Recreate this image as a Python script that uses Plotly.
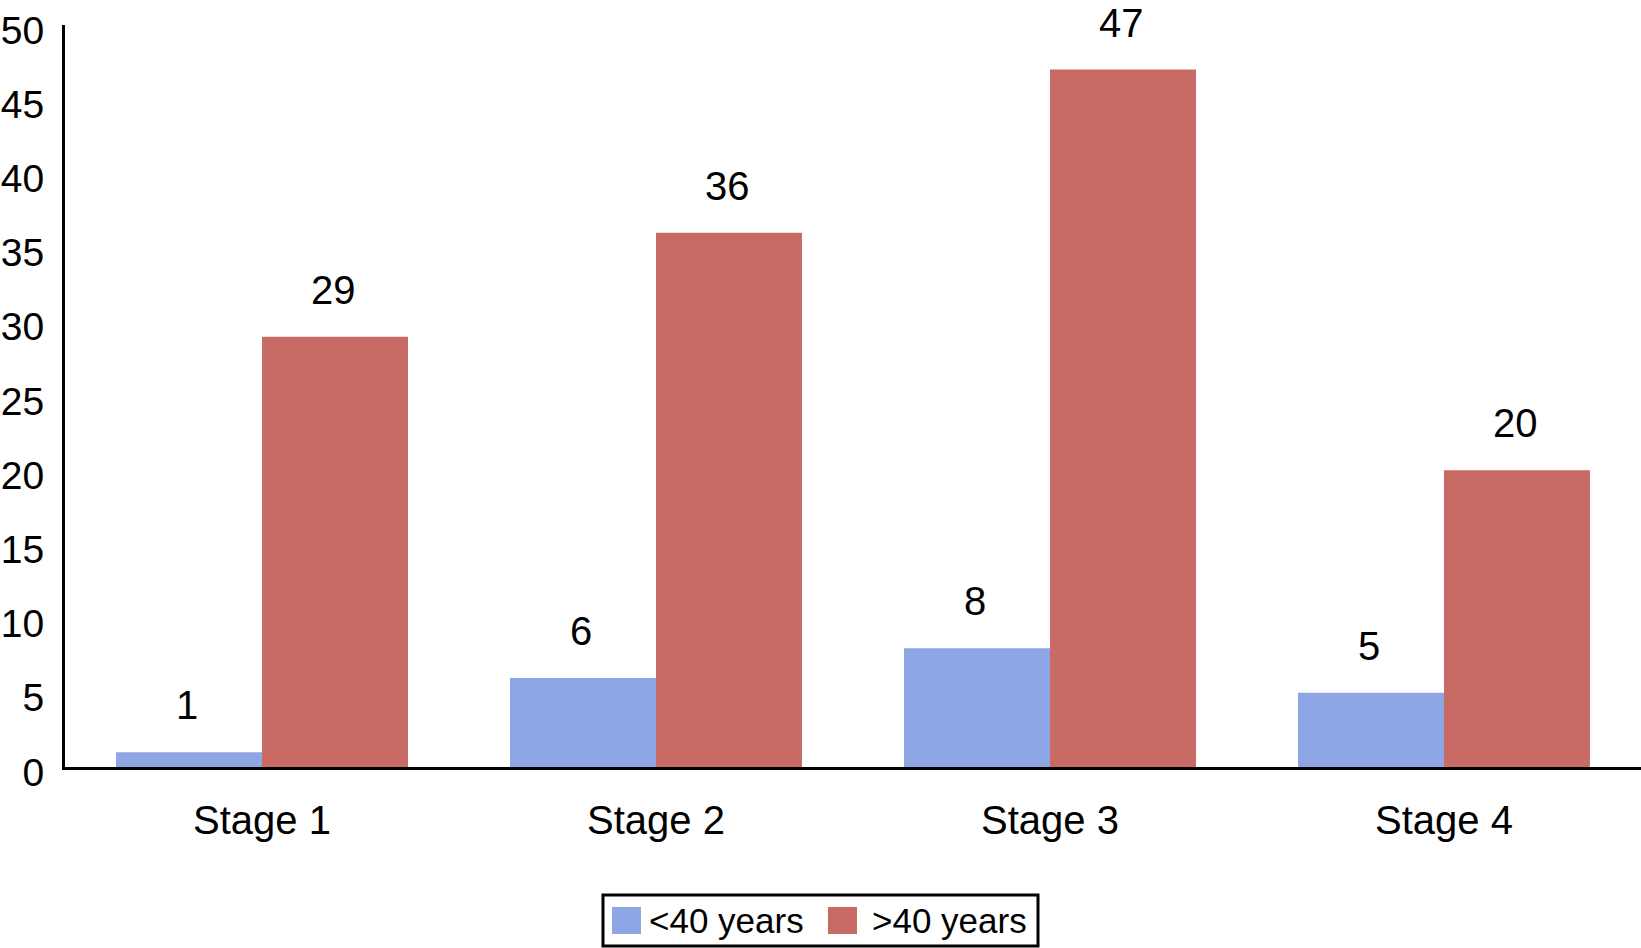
import plotly.graph_objects as go

categories = ["Stage 1", "Stage 2", "Stage 3", "Stage 4"]
under40 = [1, 6, 8, 5]
over40 = [29, 36, 47, 20]
series_names = ["<40 years", ">40 years"]
y_ticks = [0, 5, 10, 15, 20, 25, 30, 35, 40, 45, 50]

BLUE = "#8EA6E4"
RED = "#C96B65"
FONT = "Liberation Sans, Arial, Helvetica, sans-serif"

W, H = 1641, 948
ML, MR, MT, MB = 65, 0, 25, 181
PW, PH = W - ML - MR, H - MT - MB
PLOT_LEFT, PLOT_BOTTOM = ML, H - MB


def px(x):
    return (x - PLOT_LEFT) / PW


def py(y):
    return (PLOT_BOTTOM - y) / PH


fig = go.Figure()
fig.add_trace(go.Bar(x=categories, y=under40, name=series_names[0],
                     marker=dict(color=BLUE, line=dict(width=0)), showlegend=False))
fig.add_trace(go.Bar(x=categories, y=over40, name=series_names[1],
                     marker=dict(color=RED, line=dict(width=0)), showlegend=False))

annotations = []
for cat, v in zip(categories, under40):
    annotations.append(dict(x=cat, y=v, xref="x", yref="y", text=str(v), showarrow=False,
                            xshift=-75, yshift=47, yanchor="middle",
                            font=dict(family=FONT, size=40, color="black")))
for cat, v in zip(categories, over40):
    annotations.append(dict(x=cat, y=v, xref="x", yref="y", text=str(v), showarrow=False,
                            xshift=71, yshift=47, yanchor="middle",
                            font=dict(family=FONT, size=40, color="black")))

# custom legend
shapes = [
    dict(type="rect", xref="paper", yref="paper", x0=px(603), x1=px(1038), y0=py(946), y1=py(895),
         line=dict(color="black", width=3), fillcolor="white", layer="above"),
    dict(type="rect", xref="paper", yref="paper", x0=px(612), x1=px(641), y0=py(934), y1=py(907),
         line=dict(width=0), fillcolor=BLUE),
    dict(type="rect", xref="paper", yref="paper", x0=px(828), x1=px(857), y0=py(934), y1=py(907),
         line=dict(width=0), fillcolor=RED),
]
annotations.append(dict(x=px(647), y=py(920), xref="paper", yref="paper", text=series_names[0],
                        showarrow=False, xanchor="left", yanchor="middle",
                        font=dict(family=FONT, size=35, color="black")))
annotations.append(dict(x=px(870), y=py(920), xref="paper", yref="paper", text=series_names[1],
                        showarrow=False, xanchor="left", yanchor="middle",
                        font=dict(family=FONT, size=35, color="black")))

fig.update_layout(
    width=W, height=H,
    margin=dict(l=ML, r=MR, t=MT, b=MB, pad=0, autoexpand=False),
    paper_bgcolor="white", plot_bgcolor="white",
    barmode="group", bargap=0.259, bargroupgap=0,
    font=dict(family=FONT, size=40, color="black"),
    showlegend=False,
    shapes=shapes,
    annotations=annotations,
)
fig.update_xaxes(showline=True, linecolor="black", linewidth=3, ticks="", showgrid=False,
                 tickfont=dict(size=40), ticklabelstandoff=16, zeroline=False, automargin=False)
fig.update_yaxes(range=[0, 50], tickvals=y_ticks, showline=True, linecolor="black", linewidth=3,
                 ticks="", showgrid=False, zeroline=False, tickfont=dict(size=39),
                 ticklabelstandoff=10, ticklabelshift=5, automargin=False)

fig.write_html("out.html", config=dict(displayModeBar=False),
               post_script="document.body.style.margin='0px';document.body.style.overflow='hidden';")
